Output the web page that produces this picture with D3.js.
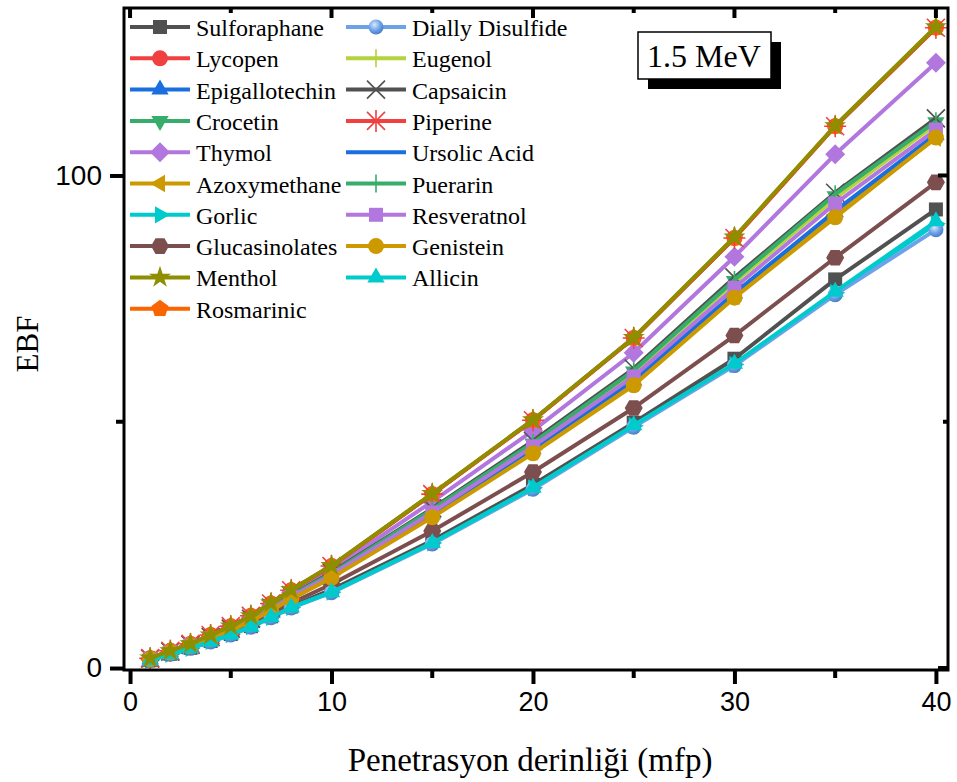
<!DOCTYPE html>
<html>
<head>
<meta charset="utf-8">
<script src="https://cdn.jsdelivr.net/npm/d3@7"></script>
<style>
  body { margin: 0; background: #fff; }
  svg { display: block; }
</style>
</head>
<body>
<svg id="chart" width="957" height="782"></svg>
<script>
// penetration depth (mfp)
const depth = [1, 2, 3, 4, 5, 6, 7, 8, 10, 15, 20, 25, 30, 35, 40];

// EBF values, one array per compound
const sulforaphane   = [1.6, 2.9, 4.1, 5.5, 6.9, 8.5, 10.5, 12.5, 15.9, 25.9, 37.2, 49.8, 62.8, 78.9, 93.1];
const lycopen        = [2.0, 3.5, 4.9, 6.7, 8.5, 10.6, 13.1, 15.8, 20.7, 35.3, 50.3, 67.0, 87.3, 110.0, 130.0];
const epigallotechin = [1.8, 3.2, 4.5, 6.1, 7.7, 9.6, 11.8, 14.2, 18.6, 31.2, 44.4, 58.4, 76.0, 92.6, 108.2];
const crocetin       = [1.9, 3.3, 4.6, 6.2, 7.9, 9.9, 12.2, 14.7, 19.2, 32.1, 45.6, 60.2, 78.6, 95.8, 110.8];
const thymol         = [1.9, 3.4, 4.8, 6.5, 8.3, 10.3, 12.8, 15.4, 20.0, 33.8, 48.2, 64.0, 83.5, 104.3, 122.9];
const azoxymethane   = [1.8, 3.2, 4.5, 6.0, 7.7, 9.5, 11.7, 14.1, 18.4, 30.8, 43.9, 57.8, 75.4, 92.0, 107.6];
const gorlic         = [1.6, 2.8, 4.0, 5.4, 6.8, 8.4, 10.3, 12.3, 15.4, 25.4, 36.6, 49.2, 61.6, 76.2, 90.2];
const glucasinolates = [1.7, 3.0, 4.3, 5.7, 7.2, 8.9, 11.0, 13.2, 17.0, 27.8, 39.8, 52.8, 67.5, 83.3, 98.6];
const menthol        = [2.0, 3.5, 4.9, 6.7, 8.5, 10.6, 13.2, 15.9, 20.8, 35.4, 50.4, 67.1, 87.5, 110.1, 130.2];
const rosmarinic     = [2.0, 3.5, 4.9, 6.7, 8.5, 10.6, 13.1, 15.8, 20.7, 35.3, 50.3, 67.0, 87.3, 110.0, 130.0];
const diallyDisulf   = [1.6, 2.8, 4.0, 5.3, 6.7, 8.3, 10.2, 12.2, 15.3, 25.2, 36.3, 48.9, 61.4, 75.8, 89.0];
const eugenol        = [1.9, 3.3, 4.6, 6.2, 7.9, 9.8, 12.1, 14.6, 19.1, 32.0, 45.4, 60.0, 78.3, 95.4, 110.4];
const capsaicin      = [1.9, 3.3, 4.7, 6.3, 8.0, 10.0, 12.3, 14.8, 19.4, 32.4, 46.1, 60.8, 79.3, 96.5, 111.6];
const piperine       = [2.0, 3.5, 4.9, 6.7, 8.5, 10.6, 13.1, 15.8, 20.7, 35.3, 50.3, 67.0, 87.3, 110.0, 130.0];
const ursolicAcid    = [1.8, 3.2, 4.5, 6.1, 7.7, 9.6, 11.8, 14.2, 18.6, 31.2, 44.5, 58.5, 76.1, 92.8, 108.4];
const puerarin       = [1.9, 3.3, 4.6, 6.2, 7.9, 9.9, 12.2, 14.7, 19.2, 32.2, 45.7, 60.4, 78.8, 96.2, 111.0];
const resveratnol    = [1.8, 3.2, 4.6, 6.1, 7.8, 9.7, 12.0, 14.4, 18.9, 31.6, 45.0, 59.2, 77.2, 94.3, 109.3];
const genistein      = [1.8, 3.2, 4.5, 6.0, 7.6, 9.5, 11.7, 14.0, 18.3, 30.6, 43.6, 57.4, 75.2, 91.5, 107.7];
const allicin        = [1.6, 2.8, 4.0, 5.4, 6.8, 8.4, 10.3, 12.3, 15.4, 25.4, 36.6, 49.3, 61.8, 76.4, 90.7];

const names   = ["Sulforaphane", "Lycopen", "Epigallotechin", "Crocetin", "Thymol", "Azoxymethane", "Gorlic",
                 "Glucasinolates", "Menthol", "Rosmarinic", "Dially Disulfide", "Eugenol", "Capsaicin", "Piperine",
                 "Ursolic Acid", "Puerarin", "Resveratnol", "Genistein", "Allicin"];
const values  = [sulforaphane, lycopen, epigallotechin, crocetin, thymol, azoxymethane, gorlic,
                 glucasinolates, menthol, rosmarinic, diallyDisulf, eugenol, capsaicin, piperine,
                 ursolicAcid, puerarin, resveratnol, genistein, allicin];
const colors  = ["#515151", "#F14040", "#1A6FDF", "#37AD6B", "#B177DE", "#CC9900", "#00CBCC",
                 "#7D4E4E", "#8E8E00", "#FB6501", "#6CA2EA", "#B5D33D", "#515151", "#F14040",
                 "#1A6FDF", "#37AD6B", "#B177DE", "#CC9900", "#00CBCC"];
const symbols = ["square", "circle", "triUp", "triDown", "diamond", "triLeft", "triRight",
                 "hexagon", "star", "pentagon", "sphere", "vbar", "cross", "asterisk",
                 "none", "vbar", "square", "circle", "triUp"];

const xTicks = [0, 10, 20, 30, 40];
const xMinor = [5, 15, 25, 35];
const yTicks = [0, 100];
const yMinor = [50];

const series = names.map((n, i) => ({
  name: n, color: colors[i], symbol: symbols[i],
  points: depth.map((d, j) => ({ x: d, y: values[i][j] }))
}));

const svg = d3.select("#chart");
const serif = "Liberation Serif, Times New Roman, serif";
const sans = "Liberation Sans, Arial, sans-serif";

const x = d3.scaleLinear().domain([-0.3, 40.6]).range([124, 948]);
const y = d3.scaleLinear().domain([-0.4, 134]).range([670, 8]);

const defs = svg.append("defs");
const grad = defs.append("radialGradient").attr("id", "sphere").attr("cx", "40%").attr("cy", "35%").attr("r", "65%");
grad.append("stop").attr("offset", "0%").attr("stop-color", "#dbe8fa");
grad.append("stop").attr("offset", "60%").attr("stop-color", "#6CA2EA");
grad.append("stop").attr("offset", "100%").attr("stop-color", "#4a7fc4");

function polygon(n, r, rot) {
  const pts = d3.range(n).map(k => {
    const a = rot + k * 2 * Math.PI / n;
    return [r * Math.cos(a), r * Math.sin(a)];
  });
  return "M" + pts.map(p => p.join(",")).join("L") + "Z";
}

function drawMarker(g, s) {
  const c = s.color;
  switch (s.symbol) {
    case "square":   g.append("rect").attr("x", -7).attr("y", -7).attr("width", 14).attr("height", 14).attr("fill", c); break;
    case "circle":   g.append("circle").attr("r", 8).attr("fill", c); break;
    case "sphere":   g.append("circle").attr("r", 7.5).attr("fill", "url(#sphere)"); break;
    case "triUp":    g.append("path").attr("d", polygon(3, 10, -Math.PI / 2)).attr("fill", c); break;
    case "triDown":  g.append("path").attr("d", polygon(3, 10, Math.PI / 2)).attr("fill", c); break;
    case "triLeft":  g.append("path").attr("d", polygon(3, 10, Math.PI)).attr("fill", c); break;
    case "triRight": g.append("path").attr("d", polygon(3, 10, 0)).attr("fill", c); break;
    case "diamond":  g.append("path").attr("d", polygon(4, 10, 0)).attr("fill", c); break;
    case "hexagon":  g.append("path").attr("d", polygon(6, 9, 0)).attr("fill", c); break;
    case "pentagon": g.append("path").attr("d", polygon(5, 9, -Math.PI / 2)).attr("fill", c); break;
    case "star":     g.append("path").attr("d", d3.symbol(d3.symbolStar, 150)()).attr("fill", c); break;
    case "vbar":     g.append("path").attr("d", "M0,-9V9").attr("stroke", c).attr("stroke-width", 1.6); break;
    case "cross":    g.append("path").attr("d", "M-9,-9L9,9M-9,9L9,-9").attr("stroke", c).attr("stroke-width", 1.6); break;
    case "asterisk": g.append("path").attr("d", "M-9,-9L9,9M-9,9L9,-9M0,-11V11M-11,0H11").attr("stroke", c).attr("stroke-width", 1.6); break;
  }
}

// draw in legend order, Menthol on top of the overlapping top group
const drawOrder = series.slice().sort((a, b) => (a.name === "Menthol") - (b.name === "Menthol"));

const line = d3.line().x(d => x(d.x)).y(d => y(d.y));
const plot = svg.append("g");

drawOrder.forEach(s => {
  const g = plot.append("g");
  g.append("path")
    .attr("d", line(s.points))
    .attr("fill", "none")
    .attr("stroke", s.color)
    .attr("stroke-width", 4)
    .attr("stroke-linejoin", "round");
  g.selectAll(".m")
    .data(s.points)
    .enter().append("g")
    .attr("transform", d => `translate(${x(d.x)},${y(d.y)})`)
    .each(function () { drawMarker(d3.select(this), s); });
});

// frame
svg.append("rect")
  .attr("x", 124).attr("y", 8).attr("width", 824).attr("height", 662)
  .attr("fill", "none").attr("stroke", "#000").attr("stroke-width", 3);

// bottom axis
const xAxis = svg.append("g").attr("transform", "translate(0,670)");
xAxis.call(d3.axisBottom(x).tickValues(xTicks).tickSize(14).tickSizeOuter(0).tickPadding(8))
  .call(g => g.select(".domain").remove())
  .call(g => g.selectAll(".tick line").attr("stroke-width", 4))
  .call(g => g.selectAll(".tick text").attr("font-family", sans).attr("font-size", 27).attr("fill", "#000"));
xAxis.selectAll(".minor").data(xMinor).enter().append("line")
  .attr("x1", d => x(d)).attr("x2", d => x(d)).attr("y1", 0).attr("y2", 8)
  .attr("stroke", "#000").attr("stroke-width", 4);

// left axis
const yAxis = svg.append("g").attr("transform", "translate(124,0)");
yAxis.call(d3.axisLeft(y).tickValues(yTicks).tickSize(14).tickSizeOuter(0).tickPadding(8))
  .call(g => g.select(".domain").remove())
  .call(g => g.selectAll(".tick line").attr("stroke-width", 4))
  .call(g => g.selectAll(".tick text").attr("font-family", sans).attr("font-size", 28).attr("fill", "#000"));
yAxis.selectAll(".minor").data(yMinor).enter().append("line")
  .attr("x1", 0).attr("x2", -8).attr("y1", d => y(d)).attr("y2", d => y(d))
  .attr("stroke", "#000").attr("stroke-width", 4);

// mirror ticks on top and right
svg.append("g").selectAll("line").data(xTicks.concat(xMinor)).enter().append("line")
  .attr("x1", d => x(d)).attr("x2", d => x(d))
  .attr("y1", 8).attr("y2", d => xTicks.includes(d) ? 18 : 13)
  .attr("stroke", "#000").attr("stroke-width", 4);
svg.append("g").selectAll("line").data(yTicks.concat(yMinor)).enter().append("line")
  .attr("x1", 948).attr("x2", d => yTicks.includes(d) ? 938 : 943)
  .attr("y1", d => y(d)).attr("y2", d => y(d))
  .attr("stroke", "#000").attr("stroke-width", 4);

// axis titles
svg.append("text")
  .attr("x", 530).attr("y", 771)
  .attr("text-anchor", "middle")
  .attr("font-family", serif).attr("font-size", 33)
  .text("Penetrasyon derinliği (mfp)");
svg.append("text")
  .attr("transform", "translate(38,344) rotate(-90)")
  .attr("text-anchor", "middle")
  .attr("font-family", serif).attr("font-size", 31)
  .text("EBF");

// energy label box with shadow
svg.append("rect").attr("x", 648).attr("y", 42).attr("width", 133).attr("height", 47).attr("fill", "#000");
svg.append("rect").attr("x", 638).attr("y", 32).attr("width", 133).attr("height", 47)
  .attr("fill", "#fff").attr("stroke", "#000").attr("stroke-width", 1.5);
svg.append("text")
  .attr("x", 704).attr("y", 67)
  .attr("text-anchor", "middle")
  .attr("font-family", serif).attr("font-size", 32)
  .text("1.5 MeV");

// legend, two columns
const legend = svg.append("g");
series.forEach((s, i) => {
  const col = i < 10 ? 0 : 1;
  const row = i < 10 ? i : i - 10;
  const lx = col === 0 ? 130 : 346;
  const ly = 27 + row * 31.3;
  const g = legend.append("g").attr("transform", `translate(${lx},${ly})`);
  g.append("line").attr("x1", 0).attr("x2", 60).attr("y1", 0).attr("y2", 0)
    .attr("stroke", s.color).attr("stroke-width", 4);
  const m = g.append("g").attr("transform", "translate(30,0)");
  drawMarker(m, s);
  g.append("text")
    .attr("x", 66).attr("y", 9)
    .attr("font-family", serif).attr("font-size", 24)
    .text(s.name);
});
</script>
</body>
</html>
